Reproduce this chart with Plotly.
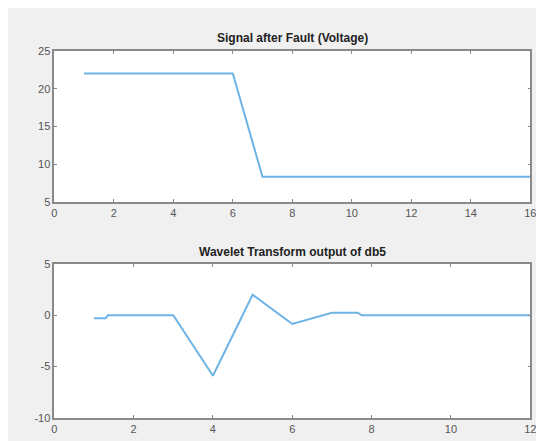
import plotly.graph_objects as go

# Top: signal after fault
sig_x = [1, 2, 3, 4, 5, 6, 7, 8, 9, 10, 11, 12, 13, 14, 15, 16]
sig_y = [22, 22, 22, 22, 22, 22, 8.3, 8.3, 8.3, 8.3, 8.3, 8.3, 8.3, 8.3, 8.3, 8.3]

# Bottom: wavelet transform output
wav_x = [1, 1.3, 1.35, 3, 4, 5, 6, 7, 7.65, 7.75, 12]
wav_y = [-0.3, -0.3, 0, 0, -5.9, 2.0, -0.85, 0.25, 0.25, 0, 0]

top_title = "Signal after Fault (Voltage)"
bot_title = "Wavelet Transform output of db5"

top_xticks = [0, 2, 4, 6, 8, 10, 12, 14, 16]
top_yticks = [5, 10, 15, 20, 25]
bot_xticks = [0, 2, 4, 6, 8, 10, 12]
bot_yticks = [-10, -5, 0, 5]

line_color = "#6db3e6"
frame_color = "#8a8a8a"
font_family = "Liberation Sans, Arial, sans-serif"
tick_font = dict(family=font_family, size=11, color="#555555")

fig = go.Figure()
fig.add_trace(go.Scatter(x=sig_x, y=sig_y, mode="lines",
                         line=dict(color=line_color, width=2), xaxis="x", yaxis="y"))
fig.add_trace(go.Scatter(x=wav_x, y=wav_y, mode="lines",
                         line=dict(color=line_color, width=2), xaxis="x2", yaxis="y2"))

W, H = 544, 441
xdom = [44 / W, 528 / W]
ydom1 = [1 - 193 / H, 1 - 38 / H]
ydom2 = [1 - 415 / H, 1 - 257 / H]

ax_common = dict(showline=True, linecolor=frame_color, linewidth=1.5, mirror="ticks",
                 ticks="inside", ticklen=3, tickcolor=frame_color, showgrid=False,
                 zeroline=False, tickfont=tick_font)


def labels(vals):
    return [str(v) for v in vals]


fig.update_layout(
    width=W, height=H,
    paper_bgcolor="#f0f0f0", plot_bgcolor="white",
    margin=dict(l=0, r=0, t=0, b=0),
    showlegend=False,
    xaxis=dict(domain=xdom, range=[0, 16], tickvals=top_xticks, ticktext=labels(top_xticks),
               anchor="y", **ax_common),
    yaxis=dict(domain=ydom1, range=[5, 25], tickvals=top_yticks, ticktext=labels(top_yticks),
               anchor="x", **ax_common),
    xaxis2=dict(domain=xdom, range=[0, 12], tickvals=bot_xticks, ticktext=labels(bot_xticks),
                anchor="y2", **ax_common),
    yaxis2=dict(domain=ydom2, range=[-10, 5], tickvals=bot_yticks, ticktext=labels(bot_yticks),
                anchor="x2", **ax_common),
    annotations=[
        dict(text="<b>" + top_title + "</b>", x=(xdom[0] + xdom[1]) / 2, y=1 - 25 / H,
             xref="paper", yref="paper", showarrow=False, yanchor="middle",
             font=dict(family=font_family, size=12, color="#222222")),
        dict(text="<b>" + bot_title + "</b>", x=(xdom[0] + xdom[1]) / 2, y=1 - 245 / H,
             xref="paper", yref="paper", showarrow=False, yanchor="middle",
             font=dict(family=font_family, size=12, color="#222222")),
    ],
)

fig.write_html("out.html")
